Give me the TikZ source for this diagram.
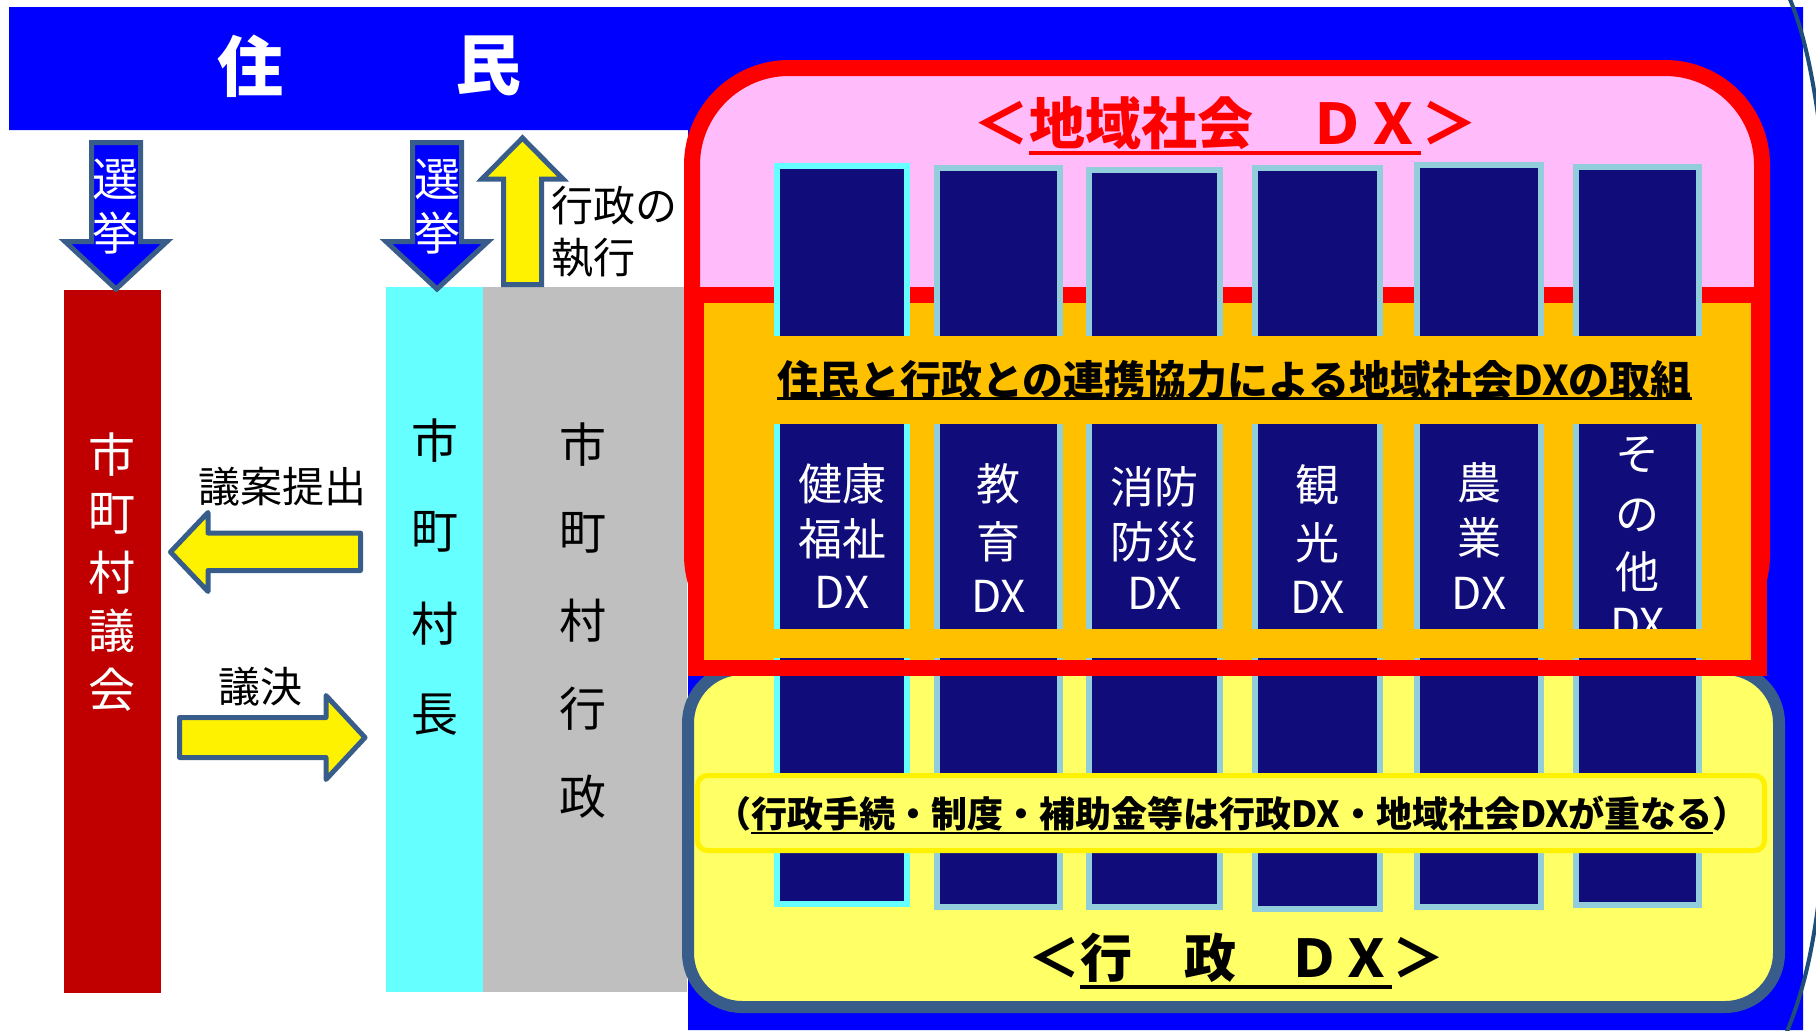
\documentclass[tikz,border=0pt]{standalone}
\usepackage{fontspec}
\newfontfamily\jp{Noto Sans CJK JP}
\definecolor{bluebg}{RGB}{0,0,255}
\definecolor{arrowedge}{RGB}{56,93,138}
\definecolor{gikaired}{RGB}{192,0,0}
\definecolor{cyanbar}{RGB}{102,255,255}
\definecolor{graybar}{RGB}{191,191,191}
\definecolor{pinkfill}{RGB}{255,187,250}
\definecolor{orangefill}{RGB}{255,192,0}
\definecolor{navy}{RGB}{16,12,122}
\definecolor{coledge}{RGB}{146,205,220}
\definecolor{lightyel}{RGB}{255,255,102}
\definecolor{arcblue}{RGB}{31,78,121}
\newcommand\ulr[2]{\setbox0\hbox{#2}\rlap{\smash{\rule[#1]{\wd0}{0.065em}}}\box0}
\tikzset{
  arrowshape/.style={draw=arrowedge, line width=5, line join=miter},
  bar/.style={inner sep=0, anchor=north west, draw=none},
  jtext/.style={inner sep=0, font=\jp\fontsize{#1}{#1}\selectfont},
  jbold/.style={inner sep=0, font=\jp\bfseries\fontsize{#1}{#1}\selectfont},
}
\begin{document}
\begin{tikzpicture}[x=1pt,y=-1pt]
\useasboundingbox (0,0) rectangle (1816,1031);
% blue background (banner and right area)
\fill[bluebg] (9,7) -- (1803,7) -- (1803,1030) -- (688,1030) -- (688,130) -- (9,130) -- cycle;
% left bars
\node[bar,fill=gikaired,minimum width=97,minimum height=703] (gikai) at (64,290) {};
\node[bar,fill=cyanbar,minimum width=97,minimum height=705] (mayor) at (386,287) {};
\node[bar,fill=graybar,minimum width=204,minimum height=705] (admin) at (483,287) {};
% yellow administrative DX box
\draw[draw=arrowedge,line width=12,fill=lightyel,rounded corners=54] (688,669) rectangle (1779,1007);
% pink regional DX box
\draw[red,line width=16,fill=pinkfill,rounded corners=97] (692,68) rectangle (1762,652);
% orange band box
\draw[red,line width=16,fill=orangefill] (696,295) rectangle (1759,668);
% columns
\foreach \xa/\xb/\ya/\yb/\ec in {774/910/163/907/cyanbar, 934/1063/165/910/coledge, 1086/1223/167/910/coledge, 1252/1383/165/912/coledge, 1414/1544/162/910/coledge, 1573/1702/164/908/coledge}
  \draw[line width=6,draw=\ec,fill=navy] (\xa+3,\ya+3) rectangle (\xb-3,\yb-3);
% column texts
\foreach \tx/\ty/\tz [count=\i] in {842/484/健康, 842/539/福祉, 842/592/DX,
   998.5/484/教, 998.5/542/育, 998.5/596/DX,
   1154.5/487/消防, 1154.5/542/防災, 1154.5/593/DX,
   1317.5/485/観, 1317.5/543/光, 1317.5/597/DX,
   1479/483/農, 1479/538/業, 1479/593/DX,
   1637.5/455/そ, 1637.5/515/の, 1637.5/572/他, 1637.5/624/DX}
  \node[jtext=44,text=white] (ct\i) at (\tx,\ty) {\tz};
% orange bands covering the columns
\fill[orangefill] (704,336) rectangle (1751,424);
\fill[orangefill] (704,629) rectangle (1751,658);
\draw[red,line width=16] (688,668) -- (1767,668);
% overlap label box
\node[draw=yellow,line width=5,fill=lightyel,rounded corners=10,minimum width=1067,minimum height=75,inner sep=0] (overlap) at (1231,813) {};
\node[jbold=36] (overlaptext) at (1232,813.5) {（\ulr{-0.19em}{行政手続・制度・補助金等は行政DX・地域社会DXが重なる}）};
% titles
\node[jbold=41] (coop) at (1234.5,380) {\ulr{-0.11em}{住民と行政との連携協力による地域社会DXの取組}};
\node[jbold=56,text=red] (regiondx) at (1225,123.5) {＜\ulr{-0.18em}{地域社会　ＤＸ}＞};
\node[jbold=52] (admindx) at (1236,957.5) {＜\ulr{-0.22em}{行　政　ＤＸ}＞};
% banner text
\node[jbold=66,text=white] (ju) at (250,66) {住};
\node[jbold=66,text=white] (min) at (488,66) {民};
% election arrows
\draw[arrowshape,fill=bluebg] (91.5,142.5) -- (140.5,142.5) -- (140.5,241.5) -- (167,241.5) -- (116,289) -- (65,241.5) -- (91.5,241.5) -- cycle;
\draw[arrowshape,fill=bluebg] (412.5,142.5) -- (461.5,142.5) -- (461.5,241.5) -- (488,241.5) -- (437,289) -- (386,241.5) -- (412.5,241.5) -- cycle;
\node[jtext=46,text=white] (sen1a) at (115,179) {選};
\node[jtext=46,text=white] (sen1b) at (115,233) {挙};
\node[jtext=46,text=white] (sen2a) at (437,179) {選};
\node[jtext=46,text=white] (sen2b) at (437,233) {挙};
% execution arrow
\draw[arrowshape,fill=yellow] (503.5,284.5) -- (541.5,284.5) -- (541.5,179) -- (563,179) -- (522.5,138) -- (482,179) -- (503.5,179) -- cycle;
\node[jtext=42,anchor=west] (exec1) at (551,206) {行政の};
\node[jtext=42,anchor=west] (exec2) at (551,258) {執行};
% bill arrows
\draw[arrowshape,line join=round,fill=yellow] (360.5,533) -- (208,533) -- (208,512.5) -- (170.5,552) -- (208,591.5) -- (208,570.5) -- (360.5,570.5) -- cycle;
\node[jtext=42] (bill) at (282,487) {議案提出};
\draw[arrowshape,line join=round,fill=yellow] (179.5,717.5) -- (326,717.5) -- (326,695.5) -- (365,737.5) -- (326,779.5) -- (326,757.5) -- (179.5,757.5) -- cycle;
\node[jtext=42] (vote) at (260,687) {議決};
% vertical texts
\foreach \ch [count=\k from 0] in {市,町,村,議,会}
  \node[jtext=47,text=white] (gk\k) at (112,455+58.7*\k) {\ch};
\foreach \ch [count=\k from 0] in {市,町,村,長}
  \node[jtext=47] (my\k) at (435,441+91.3*\k) {\ch};
\foreach \ch [count=\k from 0] in {市,町,村,行,政}
  \node[jtext=47] (ad\k) at (583,445+88*\k) {\ch};
% outer arc at right edge
\draw[arcblue,line width=4] (1789,-3) .. controls (1803,30) and (1812,70) .. (1820,130);
\draw[arcblue,line width=4] (1820,890) .. controls (1812,960) and (1800,1000) .. (1786,1034);
\end{tikzpicture}
\end{document}
